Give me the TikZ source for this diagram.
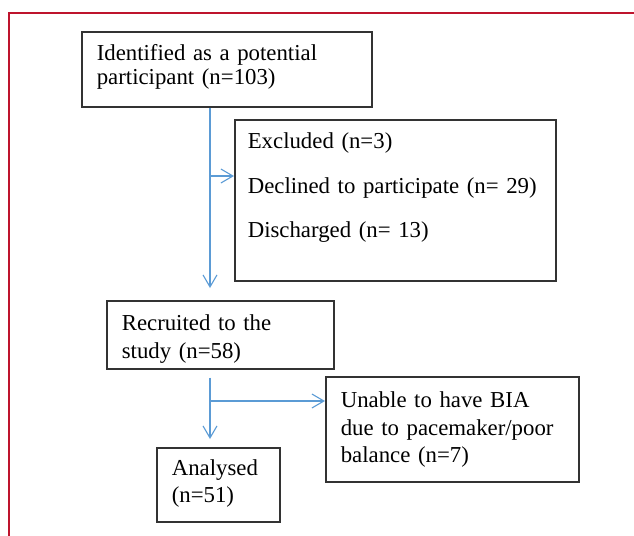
\documentclass[tikz,border=0pt]{standalone}
\usepackage{fontspec}
\setmainfont{Liberation Serif}
\usepackage{tikz}
\usepackage{xcolor}
\usetikzlibrary{positioning,arrows.meta}

\definecolor{framered}{RGB}{190,20,45}
\definecolor{flowblue}{RGB}{91,155,213}

\tikzset{
    flowbox/.style={draw=black!80, line width=0.8pt, anchor=north west,
        inner xsep=7.5pt, inner ysep=0pt, align=left},
    flow/.style={draw=flowblue, line width=0.55pt,
        -{Straight Barb[length=6pt,width=7pt]}},
}

\begin{document}
\begin{tikzpicture}[x=0.5pt, y=-0.5pt]
    \useasboundingbox (0,0) rectangle (634,536);

    % frame
    \draw[framered, line width=0.75pt] (634,13) -- (9,13) -- (9,536);

    \node[flowbox, text width=130pt, text height=14.5pt, text depth=23pt,
        font=\fontsize{11.4}{12}\selectfont] (ident) at (81,31)
        {Identified as a potential\\participant (n=103)};
    \node[flowbox, inner xsep=6.5pt, text width=147.5pt, text height=14.5pt, text depth=66pt,
        font=\fontsize{11.4}{13.75}\selectfont] (excl) at (234,119)
        {Excluded (n=3)\\[8.5pt]\mbox{Declined to participate (n= 29)}\\[8.5pt]Discharged (n= 13)};
    \node[flowbox, text width=98.5pt, text height=15pt, text depth=19pt,
        font=\fontsize{11.4}{14}\selectfont] (recr) at (106,300)
        {Recruited to the\\study (n=58)};
    \node[flowbox, text width=111.5pt, text height=15.5pt, text depth=37pt,
        font=\fontsize{11.4}{13.75}\selectfont] (unable) at (325,376)
        {Unable to have BIA\\due to pacemaker/poor\\balance (n=7)};
    \node[flowbox, text width=46.5pt, text height=14pt, text depth=23pt,
        font=\fontsize{11.4}{13.5}\selectfont] (anal) at (156,447)
        {Analysed\\(n=51)};

    \coordinate (fork1) at (210,176);
    \coordinate (fork2) at (210,401);

    % arrows
    \draw[flow, shorten >=6pt] (fork1 |- ident.south) -- (fork1 |- recr.north);
    \draw[flow] (fork1) -- (fork1 -| excl.west);
    \draw[flow, shorten <=4pt, shorten >=4pt] (fork2 |- recr.south) -- (fork2 |- anal.north);
    \draw[flow] (fork2) -- (fork2 -| unable.west);
\end{tikzpicture}
\end{document}
